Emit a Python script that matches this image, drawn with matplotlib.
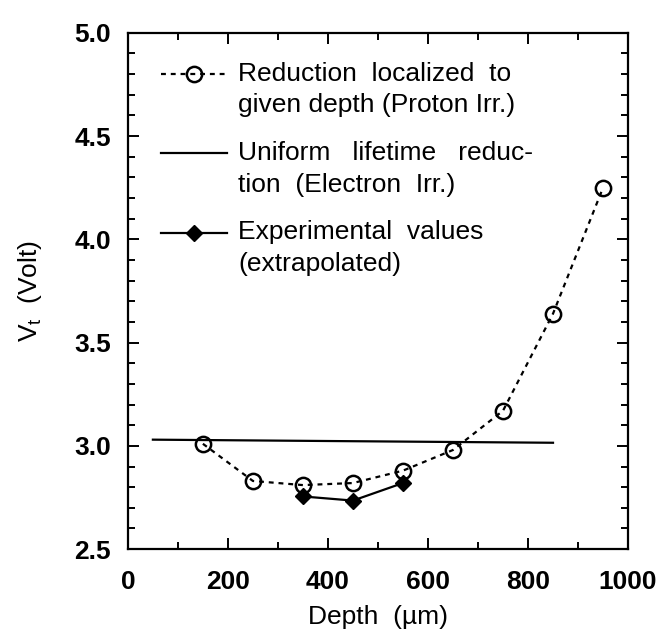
import matplotlib
matplotlib.use('Agg')
import matplotlib.pyplot as plt
from matplotlib.legend_handler import HandlerLine2D
from matplotlib.ticker import MultipleLocator

plt.rcParams['font.family'] = ['Liberation Sans', 'DejaVu Sans']
plt.rcParams['mathtext.fontset'] = 'custom'
plt.rcParams['mathtext.rm'] = 'Liberation Sans'

# 깊이별 V_t 값
depth_proton = [150, 250, 350, 450, 550, 650, 750, 850, 950]
vt_proton = [3.01, 2.83, 2.81, 2.82, 2.88, 2.98, 3.17, 3.64, 4.25]

depth_uniform = [50, 850]
vt_uniform = [3.03, 3.015]

depth_exp = [350, 450, 550]
vt_exp = [2.755, 2.735, 2.82]

labels = ['Reduction  localized  to\ngiven depth (Proton Irr.)',
          'Uniform   lifetime   reduc-\ntion  (Electron  Irr.)',
          'Experimental  values\n(extrapolated)']


class UpHandler(HandlerLine2D):
    # 범례 기호를 첫 줄 높이에 맞춥니다.
    def create_artists(self, legend, orig_handle, xdescent, ydescent,
                       width, height, fontsize, trans):
        return super().create_artists(legend, orig_handle, xdescent,
                                      ydescent - 1.2 * fontsize, width,
                                      height, fontsize, trans)


fig = plt.figure(figsize=(6.66, 6.43), dpi=100)
ax = fig.add_axes([0.192, 0.146, 0.751, 0.803])

l1, = ax.plot(depth_proton, vt_proton, linestyle=(0, (2.2, 2.2)), color='black',
              lw=1.6, marker='o', markersize=11, markerfacecolor='none',
              markeredgewidth=1.8)
l2, = ax.plot(depth_uniform, vt_uniform, color='black', lw=1.6)
l3, = ax.plot(depth_exp, vt_exp, color='black', lw=1.6, marker='D',
              markersize=8)

ax.set_xlim(0, 1000)
ax.set_ylim(2.5, 5.0)
ax.xaxis.set_major_locator(MultipleLocator(200))
ax.xaxis.set_minor_locator(MultipleLocator(100))
ax.yaxis.set_major_locator(MultipleLocator(0.5))
ax.yaxis.set_minor_locator(MultipleLocator(0.1))
ax.tick_params(which='both', direction='in', top=True, right=True, width=1.4)
ax.tick_params(which='major', length=8, labelsize=19)
ax.tick_params(axis='x', which='major', pad=15)
ax.tick_params(axis='y', which='major', pad=12)
ax.tick_params(which='minor', length=5)
for lab in ax.get_xticklabels() + ax.get_yticklabels():
    lab.set_fontweight('bold')
for s in ax.spines.values():
    s.set_linewidth(1.6)

ax.set_xlabel('Depth  (µm)', fontsize=19, labelpad=8)
ax.set_ylabel(r'$\mathregular{V_t}$  (Volt)', fontsize=19, labelpad=22)

leg = ax.legend([l1, l2, l3], labels, loc='upper left', frameon=False,
                fontsize=19, handlelength=2.5, handletextpad=0.4,
                labelspacing=0.9, borderaxespad=0.3,
                bbox_to_anchor=(0.03, 0.98),
                handler_map={matplotlib.lines.Line2D: UpHandler()})
for t in leg.get_texts():
    t.set_linespacing(1.4)

plt.savefig('out.png', dpi=100)
